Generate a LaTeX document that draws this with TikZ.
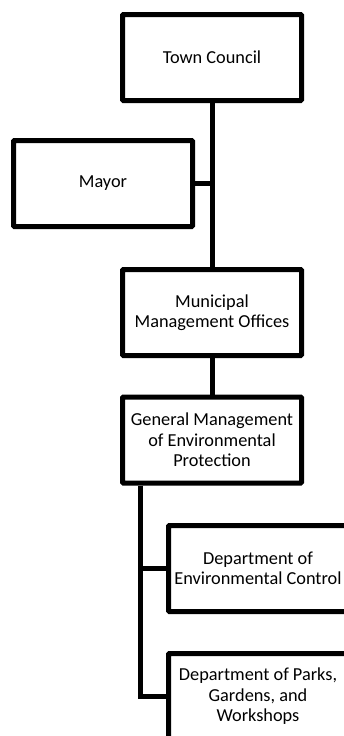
\documentclass[tikz,border=0pt]{standalone}
\usepackage{fontspec}
\setmainfont{Carlito}
\begin{document}
\begin{tikzpicture}[x=1pt, y=-1pt,
  office/.style={rectangle, draw, line width=5pt, rounded corners=1pt, minimum width=179pt, minimum height=86pt, align=center, inner sep=2pt, font=\fontsize{18.3}{20.5}\selectfont},
  link/.style={line width=5pt}]
\useasboundingbox (0,0) rectangle (343,736);

\node[office] (council) at (212,57.5) {Town Council};
\node[office] (mayor) at (103,183.5) {Mayor};
\node[office] (offices) at (212,312.5) {Municipal\\Management Offices};
\node[office] (general) at (212,440) {General Management\\of Environmental\\Protection};

\node[office] (envctrl) at (258,568.5) {Department of\\Environmental Control};
\node[office] (parks) at (258,696.5) {Department of Parks,\\Gardens, and\\Workshops};

\draw[link] (council) -- (offices);
\draw[link] (mayor.east) -- (mayor.east -| council.south);
\draw[link] (offices) -- (general);
\draw[link] ([xshift=20pt]general.south west) |- (envctrl.west);
\draw[link] ([xshift=20pt]general.south west) |- (parks.west);

\end{tikzpicture}
\end{document}
